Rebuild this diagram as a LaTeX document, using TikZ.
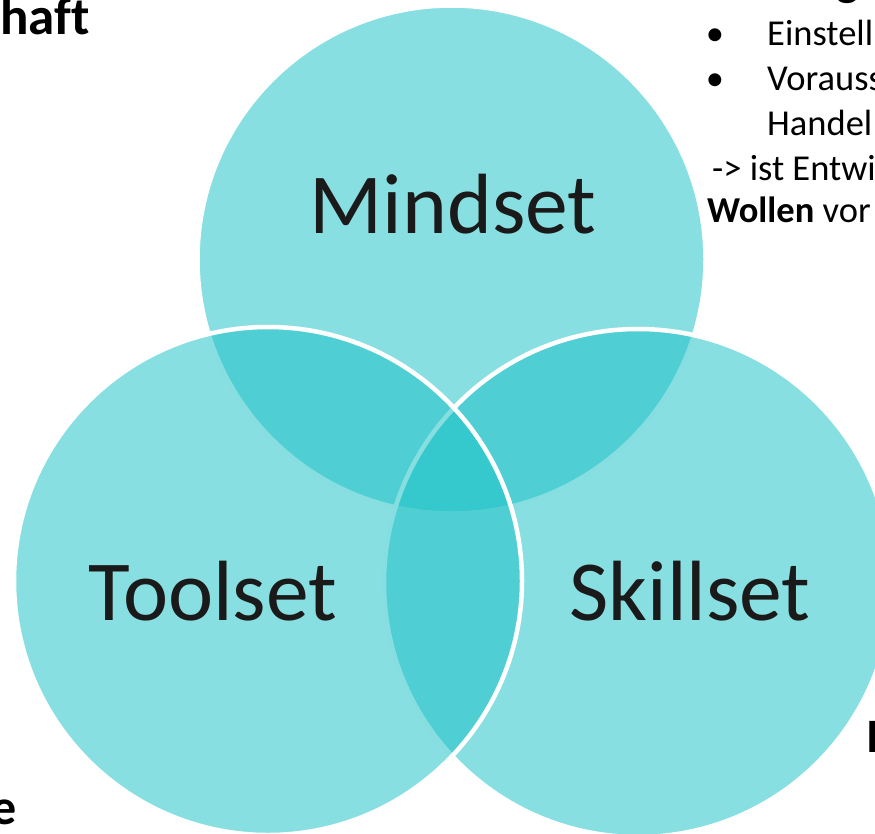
\documentclass[tikz,border=0pt]{standalone}
\usepackage{fontspec}
\setmainfont{Carlito}[Ligatures=NoCommon]
\definecolor{venn}{RGB}{30,194,198}
\definecolor{ink}{RGB}{26,26,26}
\begin{document}
\begin{tikzpicture}[x=1pt,y=-1pt,
  vcircle/.style={circle, inner sep=0pt, outer sep=0pt, minimum size=508pt,
    fill=venn, fill opacity=0.53, draw=white, draw opacity=1, line width=4.5pt},
  biglbl/.style={inner sep=0pt, anchor=base, text=ink, font=\fontsize{85.5}{100}\selectfont},
  sidetxt/.style={inner sep=0pt, text=black, font=\fontsize{36.5}{44}\selectfont},
  headtxt/.style={inner sep=0pt, text=black, font=\fontsize{48}{56}\selectfont\bfseries}]
\useasboundingbox (0,0) rectangle (875,833);
\clip (0,0) rectangle (875,833);
% circles: Mindset, Skillset, Toolset (drawing order)
\node[vcircle] (mind) at (451.5,259.5) {};
\node[vcircle] (skill) at (638,583) {};
\node[vcircle] (tool) at (268,581) {};
% labels
\node[biglbl] (tmind) at (453,233) {Mindset};
\node[biglbl] (ttool) at (213,620) {Toolset};
\node[biglbl] (tskill) at (690,620) {Skillset};
% cut-off texts at the edges
\node[headtxt, anchor=base east, font=\fontsize{53}{60}\selectfont\bfseries] (haft) at (90,34) {haf\kern0pt t};
\node[headtxt, anchor=base west] (hg) at (836,-5) {g};
\node[headtxt, anchor=base west] (hI) at (866,752) {I};
\node[headtxt, anchor=base east, font=\fontsize{50}{60}\selectfont\bfseries] (he) at (17,824) {e};
\node[sidetxt, anchor=base] (b1) at (715,45) {•};
\node[sidetxt, anchor=base west] (s1) at (767,45) {Einstell};
\node[sidetxt, anchor=base] (b2) at (715,90) {•};
\node[sidetxt, anchor=base west] (s2) at (767,90) {Vorauss};
\node[sidetxt, anchor=base west] (s3) at (767,135) {Handel};
\node[sidetxt, anchor=base west] (s4) at (712,180) {{-}> ist Entwi};
\node[sidetxt, anchor=base west] (s5) at (707,222) {\textbf{Wollen} vor};
\end{tikzpicture}
\end{document}
